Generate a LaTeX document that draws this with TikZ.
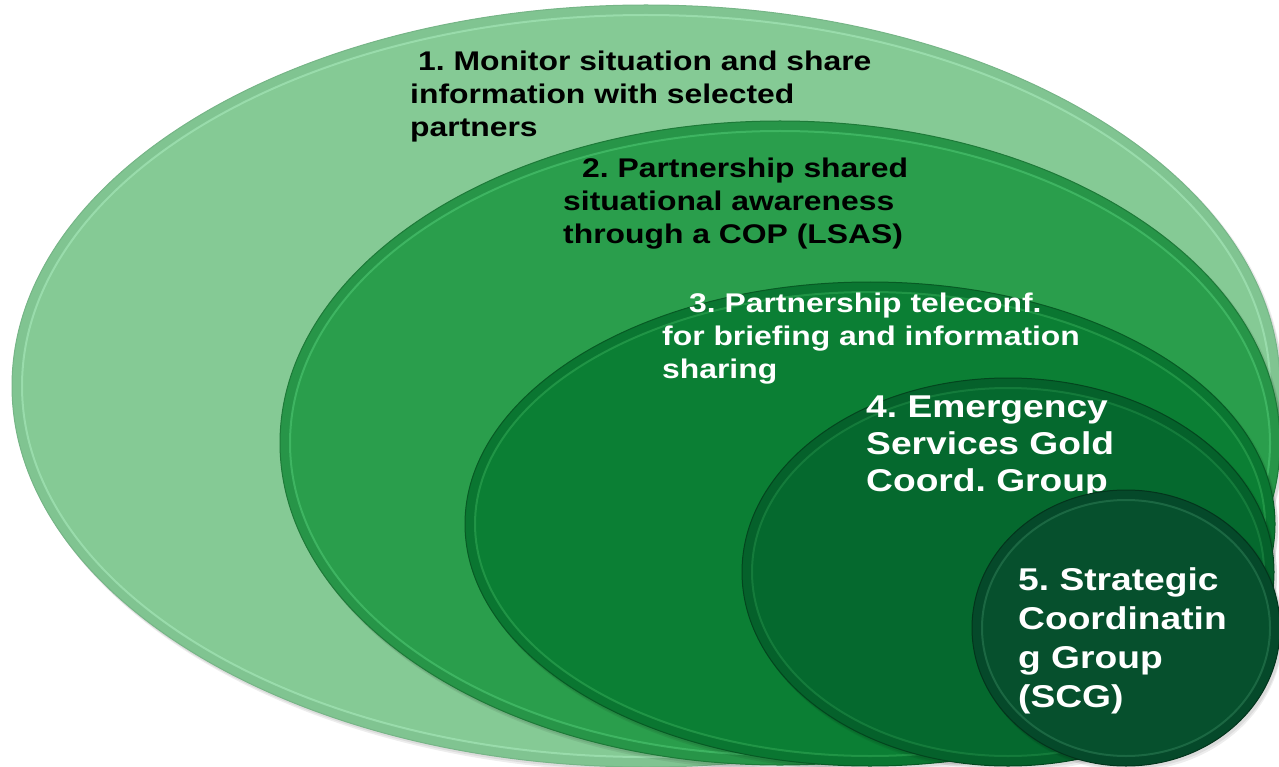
\documentclass[tikz,border=0pt]{standalone}
\usepackage{fontspec}
\setmainfont{Liberation Sans}[FakeStretch=1.18]
\frenchspacing
\definecolor{aband}{HTML}{80C491}\definecolor{afill}{HTML}{85CA95}\definecolor{aline}{HTML}{76B587}\definecolor{abright}{HTML}{A8EABC}
\definecolor{bband}{HTML}{279548}\definecolor{bfill}{HTML}{2A9E4C}\definecolor{bline}{HTML}{1D7A38}\definecolor{bbright}{HTML}{4DC772}
\definecolor{cband}{HTML}{0A7631}\definecolor{cfill}{HTML}{0B7F34}\definecolor{cline}{HTML}{075A24}\definecolor{cbright}{HTML}{2FA653}
\definecolor{dband}{HTML}{05612B}\definecolor{dfill}{HTML}{05692E}\definecolor{dline}{HTML}{03451E}\definecolor{dbright}{HTML}{1F8A45}
\definecolor{eband}{HTML}{05492A}\definecolor{efill}{HTML}{06502D}\definecolor{eline}{HTML}{03341C}\definecolor{ebright}{HTML}{2A7A52}
\newcommand\drawring[8]{%
  \fill[black,opacity=0.07] (#1+2,#2+2) ellipse ({#3+1} and {#4+1});
  \fill[black,opacity=0.07] (#1+3,#2+5) ellipse ({#3} and {#4});
  \fill[#5] (#1,#2) ellipse ({#3} and {#4});
  \fill[#6] (#1,#2) ellipse ({#3-10} and {#4-10});
  \draw[#8,line width=2pt,opacity=0.6] (#1,#2) ellipse ({#3-10} and {#4-10});
  \draw[#7,line width=1pt] (#1,#2) ellipse ({#3} and {#4});
}
\tikzset{
  lbl/.style={anchor=north west, inner sep=0pt, align=left},
  smalltxt/.style={font=\bfseries\fontsize{27}{33}\selectfont},
}
\begin{document}
\begin{tikzpicture}[x=1pt,y=-1pt]
\useasboundingbox (0,0) rectangle (1279,767);
\clip (0,0) rectangle (1279,767);
\drawring{646}{386}{634}{381}{aband}{afill}{aline}{abright}
\node[lbl,smalltxt,text=black] (t1) at (410,47) {\strut\hspace*{8pt}1. Monitor situation and share\\information with selected\\partners};
\drawring{780}{443}{500}{322}{bband}{bfill}{bline}{bbright}
\node[lbl,smalltxt,text=black] (t2) at (563,154) {\strut\hspace*{19pt}2. Partnership shared\\situational awareness\\through a COP (LSAS)};
\drawring{870}{524}{405}{242}{cband}{cfill}{cline}{cbright}
\node[lbl,smalltxt,text=white] (t3) at (662,289) {\strut\hspace*{27pt}3. Partnership teleconf.\\for briefing and information\\sharing};
\drawring{1008}{572}{266}{194}{dband}{dfill}{dline}{dbright}
\node[lbl,text=white,font=\bfseries\fontsize{31.5}{37}\selectfont] (t4) at (866,391) {\strut 4. Emergency\\Services Gold\\Coord. Group};
\drawring{1126}{628}{154}{138}{eband}{efill}{eline}{ebright}
\node[lbl,text=white,font=\bfseries\fontsize{31.5}{39}\selectfont] (t5) at (1018,563) {\strut 5. Strategic\\Coordinatin\\g Group\\(SCG)};
\end{tikzpicture}
\end{document}
